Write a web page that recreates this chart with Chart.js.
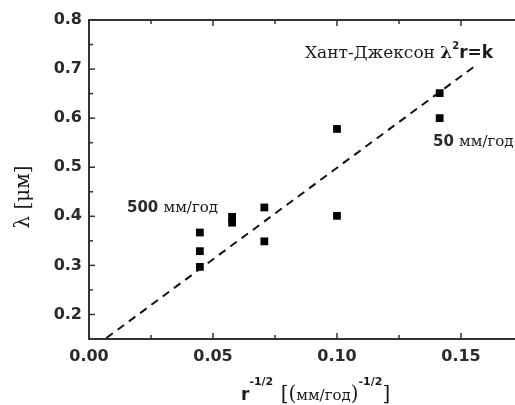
<!DOCTYPE html>
<html>
<head>
<meta charset="utf-8">
<script src="https://cdn.jsdelivr.net/npm/chart.js@4"></script>
<style>
html,body{margin:0;padding:0;background:#fff;overflow:hidden;width:515px;height:405px;}
canvas{display:block;}
</style>
</head>
<body>
<canvas id="c" width="540" height="405"></canvas>
<script>
// ---- data ----
const pointX = [0.0447, 0.0447, 0.0447, 0.0577, 0.0577, 0.0707, 0.0707, 0.100, 0.100, 0.1414, 0.1414];
const pointY = [0.367, 0.329, 0.297, 0.399, 0.387, 0.418, 0.349, 0.578, 0.401, 0.651, 0.600];
const fitX = [0.007, 0.155];
const fitY = [0.152, 0.704];
const xMajorTicks = [0.00, 0.05, 0.10, 0.15];
const xMinorTicks = [0.025, 0.075, 0.125];
const yMajorTicks = [0.2, 0.3, 0.4, 0.5, 0.6, 0.7, 0.8];
const yMinorTicks = [0.25, 0.35, 0.45, 0.55, 0.65, 0.75];
const xLabels = ['0.00', '0.05', '0.10', '0.15'];
const yLabels = ['0.2', '0.3', '0.4', '0.5', '0.6', '0.7', '0.8'];

const SANS = '"DejaVu Sans", sans-serif';
const SERIF = '"DejaVu Serif", serif';
const INK = '#1a1a1a';
const TICKINK = '#2a2a2a';

function runs(ctx, x, y, parts) {
  ctx.save();
  ctx.textAlign = 'left';
  ctx.textBaseline = 'alphabetic';
  let cx = x;
  for (const p of parts) {
    ctx.font = p.font;
    ctx.fillStyle = p.color || INK;
    cx += (p.dx || 0);
    ctx.fillText(p.t, cx, y + (p.dy || 0));
    cx += ctx.measureText(p.t).width;
  }
  ctx.restore();
}

const decor = {
  id: 'decor',
  afterDraw(chart) {
    const ctx = chart.ctx;
    const a = chart.chartArea;
    const xs = chart.scales.x, ys = chart.scales.y;
    ctx.save();
    ctx.strokeStyle = '#333';
    // top frame line
    ctx.lineWidth = 2;
    ctx.beginPath();
    ctx.moveTo(a.left - 1, a.top);
    ctx.lineTo(a.right + 20, a.top);
    ctx.stroke();
    // inward ticks
    ctx.lineWidth = 1.5;
    const tk = (vals, len) => {
      for (const v of vals) {
        const px = xs.getPixelForValue(v);
        ctx.beginPath();
        ctx.moveTo(px, a.bottom); ctx.lineTo(px, a.bottom - len);
        ctx.moveTo(px, a.top); ctx.lineTo(px, a.top + len);
        ctx.stroke();
      }
    };
    const tky = (vals, len) => {
      for (const v of vals) {
        const py = ys.getPixelForValue(v);
        ctx.beginPath();
        ctx.moveTo(a.left, py); ctx.lineTo(a.left + len, py);
        ctx.stroke();
      }
    };
    tk(xMajorTicks, 6); tk(xMinorTicks, 4);
    tky(yMajorTicks, 6); tky(yMinorTicks, 4);
    ctx.restore();

    // annotations
    runs(ctx, 305, 58, [
      {t: 'Хант-Джексон ', font: '17px ' + SERIF},
      {t: 'λ', font: 'bold 17px ' + SERIF},
      {t: '2', font: 'bold 10px ' + SANS, dy: -9},
      {t: 'r=k', font: 'bold 17px ' + SANS}
    ]);
    runs(ctx, 433, 146, [
      {t: '50 ', font: 'bold 15px ' + SANS, color: TICKINK},
      {t: 'мм/год', font: '15px ' + SERIF}
    ]);
    runs(ctx, 127, 212, [
      {t: '500 ', font: 'bold 15px ' + SANS, color: TICKINK},
      {t: 'мм/год', font: '15px ' + SERIF}
    ]);
    // x axis title
    runs(ctx, 241, 400, [
      {t: 'r', font: 'bold 17px ' + SANS},
      {t: '-1/2', font: 'bold 11px ' + SANS, dy: -15},
      {t: ' [(', font: '20px ' + SERIF, dx: 1},
      {t: 'мм/год', font: '15px ' + SERIF},
      {t: ')', font: '20px ' + SERIF},
      {t: '-1/2', font: 'bold 11px ' + SANS, dy: -15},
      {t: ']', font: '20px ' + SERIF}
    ]);
    // y axis title
    ctx.save();
    ctx.translate(29, 197);
    ctx.rotate(-Math.PI / 2);
    ctx.textAlign = 'center';
    ctx.textBaseline = 'alphabetic';
    ctx.fillStyle = INK;
    ctx.font = '20px ' + SERIF;
    ctx.fillText('λ [μм]', 0, 0);
    ctx.restore();
  }
};

const points = pointX.map((x, i) => ({x, y: pointY[i]}));
const fit = fitX.map((x, i) => ({x, y: fitY[i]}));

new Chart(document.getElementById('c'), {
  type: 'scatter',
  data: {
    datasets: [
      {
        data: fit, showLine: true, borderColor: '#111', borderWidth: 2,
        borderDash: [8, 6], pointRadius: 0, fill: false
      },
      {
        data: points, pointStyle: 'rect', pointRadius: 5.5,
        backgroundColor: '#000', borderColor: '#000', borderWidth: 0
      }
    ]
  },
  options: {
    responsive: false,
    animation: false,
    devicePixelRatio: 1,
    layout: {padding: {top: 20, right: 17, left: 0, bottom: 0}},
    plugins: {legend: {display: false}, tooltip: {enabled: false}},
    scales: {
      x: {
        type: 'linear', min: 0, max: 0.175,
        afterBuildTicks: s => { s.ticks = xMajorTicks.map(v => ({value: v})); },
        afterFit: s => { s.height = 66; },
        grid: {display: false, drawTicks: false},
        border: {display: true, color: '#333', width: 2},
        ticks: {
          padding: 8, color: TICKINK, font: {family: SANS, size: 16, weight: 'bold'},
          maxRotation: 0,
          callback: (v, i) => xLabels[i]
        }
      },
      y: {
        type: 'linear', min: 0.15, max: 0.8,
        afterBuildTicks: s => { s.ticks = yMajorTicks.map(v => ({value: v})); },
        afterFit: s => { s.width = 89; },
        grid: {display: false, drawTicks: false},
        border: {display: true, color: '#333', width: 2},
        ticks: {
          padding: 7, color: TICKINK, font: {family: SANS, size: 16, weight: 'bold'},
          callback: (v, i) => yLabels[i]
        }
      }
    }
  },
  plugins: [decor]
});
</script>
</body>
</html>
